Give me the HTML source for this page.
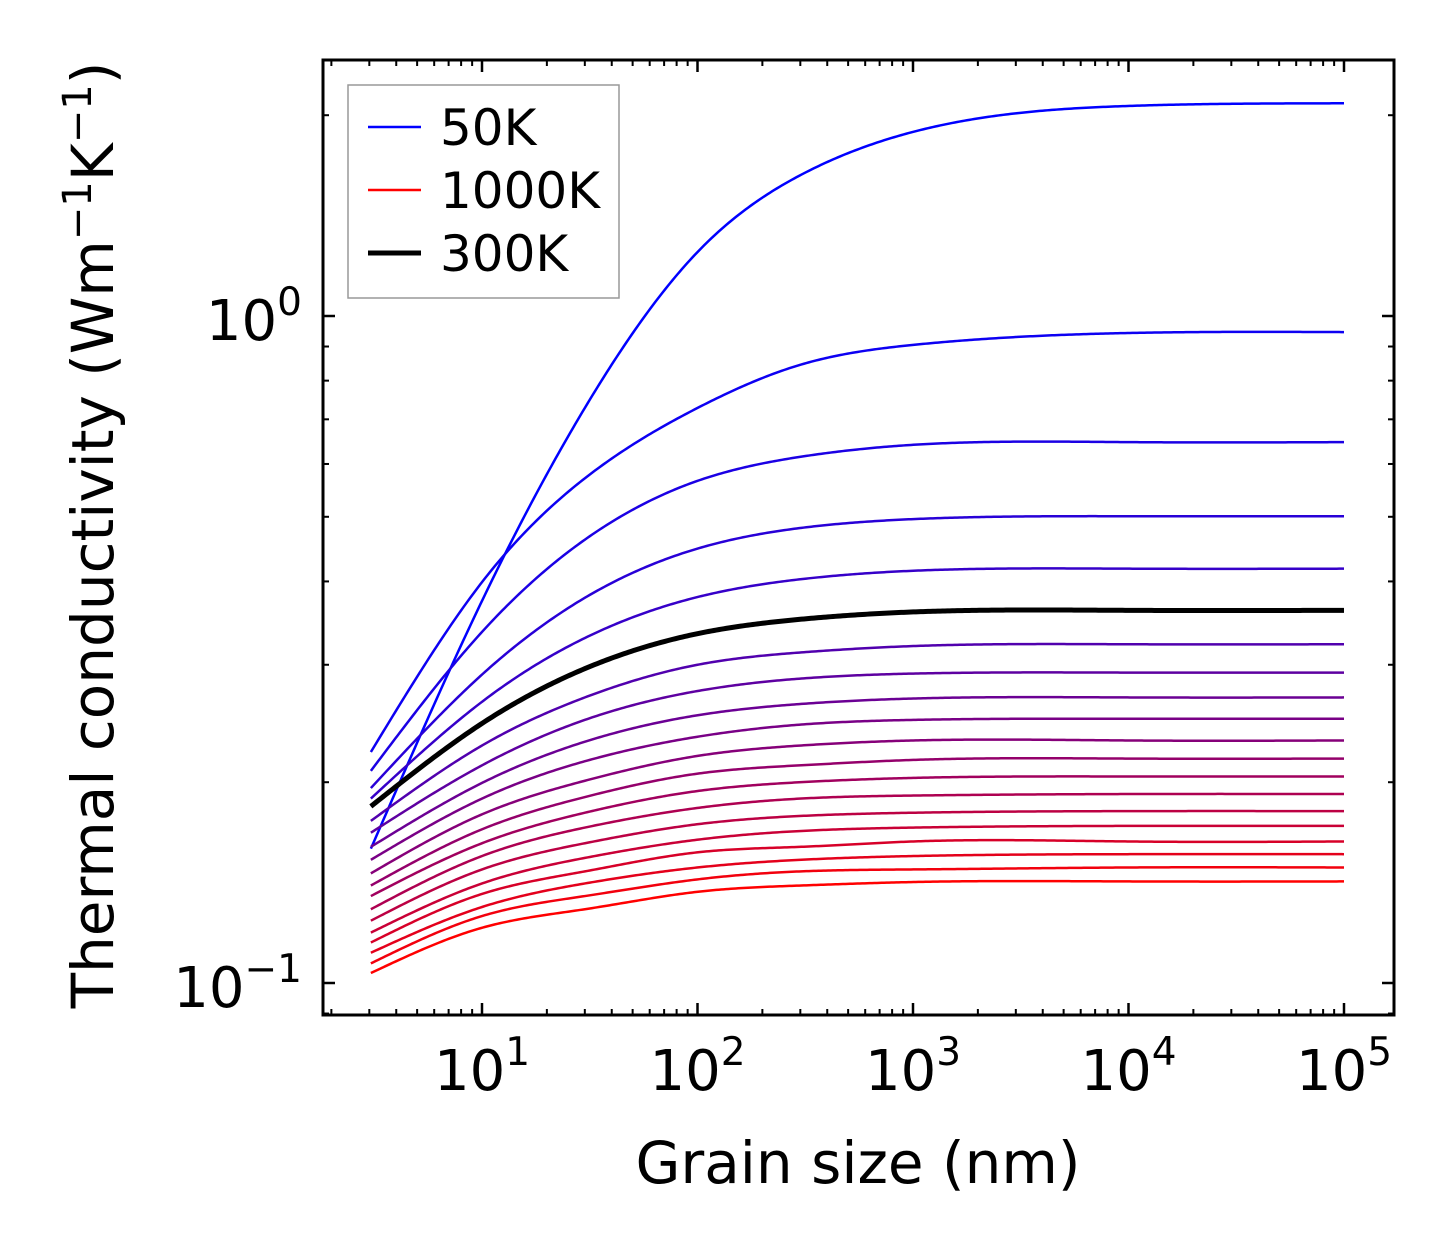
<!DOCTYPE html>
<html><head><meta charset="utf-8"><style>
html,body{margin:0;padding:0;background:#fff;}
svg{display:block;font-family:"DejaVu Sans","Liberation Sans",sans-serif;}
</style></head><body>
<svg id="chart" width="1454" height="1254" viewBox="0 0 1454 1254" xmlns="http://www.w3.org/2000/svg">
<rect x="0" y="0" width="1454" height="1254" fill="#fff"/>
<g id="series"></g>
<g id="ticks"></g>
<rect x="323" y="60" width="1071" height="955" fill="none" stroke="#000" stroke-width="3"/>
<text x="858" y="1183" font-size="58" text-anchor="middle">Grain size (nm)</text>
<text transform="translate(113,535) rotate(-90)" font-size="58" text-anchor="middle">Thermal conductivity (Wm<tspan dy="-22" font-size="40">−1</tspan><tspan dy="22">K</tspan><tspan dy="-22" font-size="40">−1</tspan><tspan dy="22">)</tspan></text>
<g>
<rect x="348" y="85" width="271" height="213" fill="#fff" stroke="#999" stroke-width="1.5"/>
<line x1="368" y1="127" x2="421" y2="127" stroke="#0000ff" stroke-width="2.5"/>
<text x="440" y="145" font-size="50">50K</text>
<line x1="368" y1="190" x2="421" y2="190" stroke="#ff0000" stroke-width="2.5"/>
<text x="440" y="208" font-size="50">1000K</text>
<line x1="368" y1="253" x2="421" y2="253" stroke="#000" stroke-width="5"/>
<text x="440" y="271" font-size="50">300K</text>
</g>
</svg>
<script>
const grainSizes = [3.05, 10, 30, 100, 300, 1000, 10000, 100000];
const temperatures = [50,100,150,200,250,300,350,400,450,500,550,600,650,700,750,800,850,900,950,1000];
const k50 = [0.159,0.374,0.728,1.247,1.626,1.888,2.065,2.084];
const k100 = [0.222,0.399,0.571,0.728,0.845,0.905,0.943,0.946];
const k150 = [0.208,0.336,0.462,0.566,0.615,0.641,0.647,0.647];
const k200 = [0.196,0.290,0.378,0.448,0.481,0.496,0.501,0.501];
const k250 = [0.189,0.264,0.329,0.379,0.403,0.415,0.418,0.418];
const k300 = [0.184,0.245,0.296,0.334,0.351,0.360,0.362,0.362];
const k350 = [0.175,0.227,0.268,0.300,0.313,0.320,0.322,0.322];
const k400 = [0.168,0.212,0.248,0.274,0.286,0.291,0.292,0.292];
const k450 = [0.160,0.1995,0.230,0.252,0.262,0.267,0.268,0.268];
const k500 = [0.153,0.189,0.215,0.234,0.244,0.248,0.249,0.249];
const k550 = [0.146,0.179,0.201,0.219,0.227,0.231,0.231,0.231];
const k600 = [0.140,0.170,0.190,0.206,0.212,0.216,0.217,0.217];
const k650 = [0.135,0.162,0.180,0.194,0.200,0.203,0.204,0.204];
const k700 = [0.129,0.155,0.171,0.183,0.189,0.191,0.192,0.192];
const k750 = [0.124,0.148,0.162,0.173,0.178,0.180,0.181,0.181];
const k800 = [0.119,0.141,0.154,0.164,0.169,0.171,0.172,0.172];
const k850 = [0.115,0.136,0.147,0.157,0.160,0.163,0.163,0.163];
const k900 = [0.111,0.130,0.141,0.149,0.153,0.155,0.156,0.156];
const k950 = [0.107,0.126,0.135,0.143,0.147,0.148,0.149,0.149];
const k1000 = [0.1035,0.121,0.129,0.137,0.140,0.1417,0.142,0.142];
const seriesValues = [k50,k100,k150,k200,k250,k300,k350,k400,k450,k500,k550,k600,k650,k700,k750,k800,k850,k900,k950,k1000];
const xTickLabels = ["1","2","3","4","5"];
const yTickLabels = ["-1","0"];

const NS = "http://www.w3.org/2000/svg";
const X0 = 482, XDEC = 215.5, Y0 = 316, YDEC = 667;
const PL = 323, PR = 1394, PT = 60, PB = 1015;
function xScale(v){ return X0 + (Math.log10(v) - 1) * XDEC; }
function yScale(v){ return Y0 - Math.log10(v) * YDEC; }

function naturalSpline(xs, ys){
  const n = xs.length, h = [], al = [0], l = [1], mu = [0], z = [0], c = new Array(n).fill(0), b = [], d = [];
  for (let i=0;i<n-1;i++) h.push(xs[i+1]-xs[i]);
  for (let i=1;i<n-1;i++) al.push(3/h[i]*(ys[i+1]-ys[i]) - 3/h[i-1]*(ys[i]-ys[i-1]));
  for (let i=1;i<n-1;i++){
    l[i] = 2*(xs[i+1]-xs[i-1]) - h[i-1]*mu[i-1];
    mu[i] = h[i]/l[i];
    z[i] = (al[i]-h[i-1]*z[i-1])/l[i];
  }
  for (let j=n-2;j>=0;j--){
    c[j] = z[j] - mu[j]*c[j+1];
    b[j] = (ys[j+1]-ys[j])/h[j] - h[j]*(c[j+1]+2*c[j])/3;
    d[j] = (c[j+1]-c[j])/(3*h[j]);
  }
  return function(x){
    let i=0; while (i<n-2 && x>xs[i+1]) i++;
    const t = x-xs[i];
    return ys[i]+b[i]*t+c[i]*t*t+d[i]*t*t*t;
  };
}

function pathFor(vals){
  const lx = grainSizes.map(Math.log10), ly = vals.map(Math.log10);
  const f = naturalSpline(lx, ly);
  let d = "";
  const a = lx[0], b = lx[lx.length-1];
  for (let j=0;j<=400;j++){
    const L = a + (b-a)*j/400;
    const px = X0 + (L-1)*XDEC, py = Y0 - f(L)*YDEC;
    d += (j?"L":"M") + px.toFixed(2) + "," + py.toFixed(2);
  }
  return d;
}

const sg = document.getElementById("series");
seriesValues.forEach((vals, i) => {
  const t = i/(seriesValues.length-1);
  const p = document.createElementNS(NS, "path");
  p.setAttribute("d", pathFor(vals));
  p.setAttribute("fill", "none");
  p.setAttribute("stroke", `rgb(${Math.round(255*t)},0,${Math.round(255*(1-t))})`);
  p.setAttribute("stroke-width", "2.5");
  
  
  sg.appendChild(p);
});
const hi = temperatures.indexOf(300);
const bp = document.createElementNS(NS, "path");
bp.setAttribute("d", pathFor(seriesValues[hi]));
bp.setAttribute("fill", "none");
bp.setAttribute("stroke", "#000");
bp.setAttribute("stroke-width", "5");


sg.appendChild(bp);

const tg = document.getElementById("ticks");
function line(x1,y1,x2,y2,w){
  const l = document.createElementNS(NS,"line");
  l.setAttribute("x1",x1); l.setAttribute("y1",y1); l.setAttribute("x2",x2); l.setAttribute("y2",y2);
  l.setAttribute("stroke","#000"); l.setAttribute("stroke-width",w);
  
  
  tg.appendChild(l);
}
for (let e=0;e<=5;e++){
  for (let m=1;m<10;m++){
    const v = m*Math.pow(10,e), x = xScale(v);
    if (x < PL+1 || x > PR-1) continue;
    const len = m===1 ? 12 : 6, w = m===1 ? 2.5 : 2;
    line(x,PB,x,PB-len,w); line(x,PT,x,PT+len,w);
  }
}
for (let e=-2;e<=1;e++){
  for (let m=1;m<10;m++){
    const v = m*Math.pow(10,e), y = yScale(v);
    if (y < PT+1 || y > PB-1) continue;
    const len = m===1 ? 12 : 6, w = m===1 ? 2.5 : 2;
    line(PL,y,PL+len,y,w); line(PR,y,PR-len,y,w);
  }
}
function tickLabel(x,y,exp,anchor,name){
  const t = document.createElementNS(NS,"text");
  t.setAttribute("x",x); t.setAttribute("y",y); t.setAttribute("font-size","56");
  t.setAttribute("text-anchor",anchor);
  t.innerHTML = '10<tspan dy="-25" font-size="39">' + exp.replace("-","−") + '</tspan>';
  
  
  tg.appendChild(t);
}
xTickLabels.forEach(s => {
  const x = xScale(Math.pow(10, +s));
  tickLabel(x, 1090, s, "middle", 'x-tick-label-1e' + s);
});
yTickLabels.forEach(s => {
  const y = yScale(Math.pow(10, +s));
  tickLabel(302, y+24, s, "end", 'y-tick-label-1e' + s);
});
</script>
</body></html>
